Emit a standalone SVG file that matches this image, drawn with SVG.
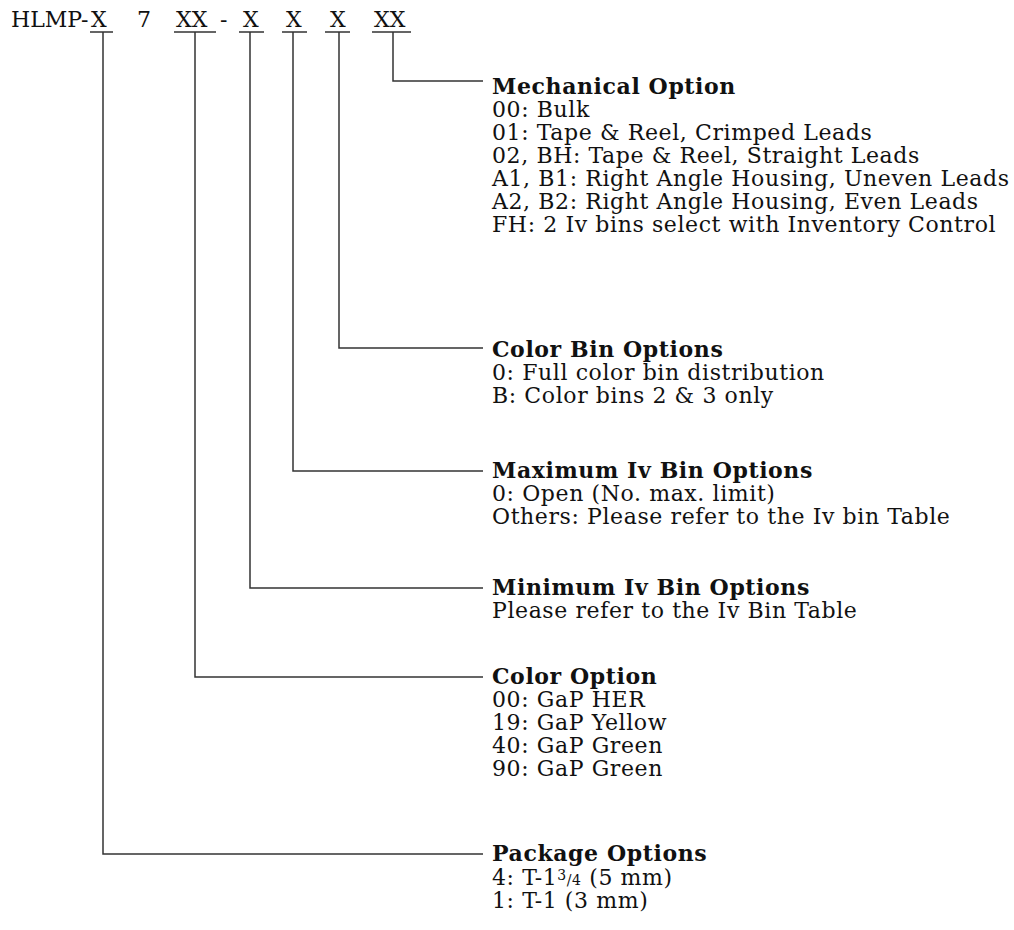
<svg xmlns="http://www.w3.org/2000/svg" width="1014" height="930" viewBox="0 0 1014 930">
<style>
text{font-family:"DejaVu Serif","Liberation Serif",serif;font-size:22px;fill:#111}
.b{letter-spacing:0.6px}
.h{font-weight:bold}
.ln{stroke:#333;stroke-width:1.5;fill:none}
</style>
<rect width="1014" height="930" fill="#fff"/>
<g id="title">
<text x="11" y="27">HLMP-</text>
<text x="91" y="27">X</text>
<text x="137" y="27">7</text>
<text x="176" y="27">XX</text>
<text x="220" y="27">-</text>
<text x="243" y="27">X</text>
<text x="286" y="27">X</text>
<text x="330" y="27">X</text>
<text x="374" y="27">XX</text>
</g>
<g id="connectors" class="ln">
<path d="M90 32H113M174 32H216M239 32H264M282 32H307M325 32H350M372 32H411"/>
<path d="M393 32V81H483"/>
<path d="M339 32V348H483"/>
<path d="M293 32V471H483"/>
<path d="M250 32V588H483"/>
<path d="M195 32V677H483"/>
<path d="M103 32V854H483"/>
</g>
<g id="mechanical" class="b">
<text class="h" x="492" y="94">Mechanical Option</text>
<text x="492" y="117">00: Bulk</text>
<text x="492" y="140">01: Tape &amp; Reel, Crimped Leads</text>
<text x="492" y="163">02, BH: Tape &amp; Reel, Straight Leads</text>
<text x="492" y="186">A1, B1: Right Angle Housing, Uneven Leads</text>
<text x="492" y="209">A2, B2: Right Angle Housing, Even Leads</text>
<text x="492" y="232">FH: 2 Iv bins select with Inventory Control</text>
</g>
<g id="colorbin" class="b">
<text class="h" x="492" y="357">Color Bin Options</text>
<text x="492" y="380">0: Full color bin distribution</text>
<text x="492" y="403">B: Color bins 2 &amp; 3 only</text>
</g>
<g id="maxiv" class="b">
<text class="h" x="492" y="478">Maximum Iv Bin Options</text>
<text x="492" y="501">0: Open (No. max. limit)</text>
<text x="492" y="524">Others: Please refer to the Iv bin Table</text>
</g>
<g id="miniv" class="b">
<text class="h" x="492" y="595">Minimum Iv Bin Options</text>
<text x="492" y="618">Please refer to the Iv Bin Table</text>
</g>
<g id="coloroption" class="b">
<text class="h" x="492" y="684">Color Option</text>
<text x="492" y="707">00: GaP HER</text>
<text x="492" y="730">19: GaP Yellow</text>
<text x="492" y="753">40: GaP Green</text>
<text x="492" y="776">90: GaP Green</text>
</g>
<g id="package" class="b">
<text class="h" x="492" y="861">Package Options</text>
<text x="492" y="885">4: T-1<tspan font-size="14" dy="-5">3</tspan><tspan font-size="14" dy="5">/4</tspan> (5 mm)</text>
<text x="492" y="908">1: T-1 (3 mm)</text>
</g>
</svg>
